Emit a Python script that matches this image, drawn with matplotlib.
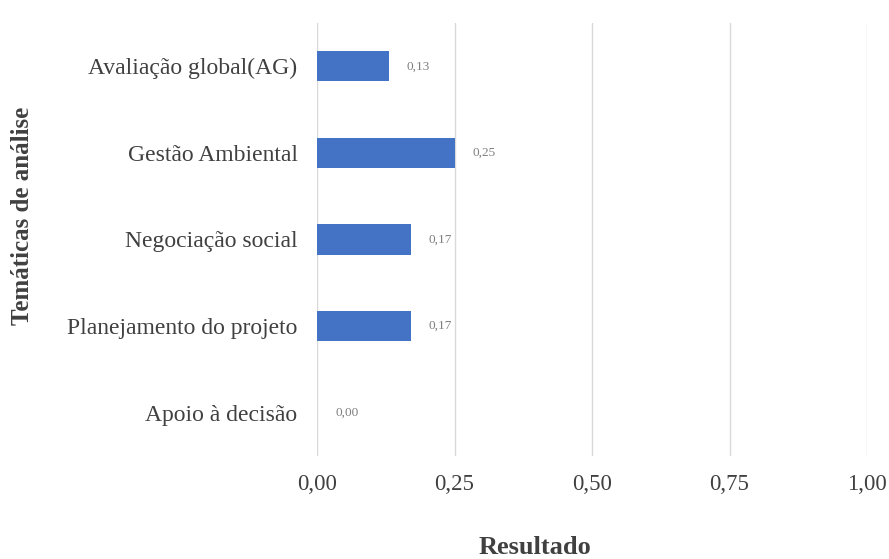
import matplotlib
matplotlib.use('Agg')
import matplotlib.pyplot as plt

categorias = ['Apoio à decisão', 'Planejamento do projeto', 'Negociação social',
              'Gestão Ambiental', 'Avaliação global(AG)']
valores = [0.00, 0.17, 0.17, 0.25, 0.13]
rotulos = ['0,00', '0,17', '0,17', '0,25', '0,13']
ticks_x = [0.0, 0.25, 0.5, 0.75, 1.0]
ticks_x_lbl = ['0,00', '0,25', '0,50', '0,75', '1,00']

plt.rcParams['font.family'] = ['Liberation Serif', 'DejaVu Serif']

fig = plt.figure(figsize=(8.89, 5.59), dpi=100)
# area do grafico em pixels: x 317-867, y 23-456
ax = fig.add_axes([317 / 889, 1 - 456 / 559, 550 / 889, 433 / 559])

y = range(len(categorias))
ax.barh(y, valores, height=0.35, color='#4472C4')
for i, (v, r) in enumerate(zip(valores, rotulos)):
    ax.text(v + 0.033, i, r, va='center', ha='left', fontsize=9.5, color='#7f7f7f')

ax.set_xlim(0, 1)
ax.set_ylim(-0.5, len(categorias) - 0.5)
ax.set_xticks(ticks_x)
ax.set_xticklabels(ticks_x_lbl)
ax.set_yticks(list(y))
ax.set_yticklabels(categorias)
ax.tick_params(axis='both', length=0, colors='#404040')
ax.tick_params(axis='y', pad=14, labelsize=17)
ax.tick_params(axis='x', pad=13, labelsize=16.5)
ax.grid(axis='x', color='#d9d9d9', linewidth=1)
ax.set_axisbelow(True)
for s in ax.spines.values():
    s.set_visible(False)

fig.text(535 / 889, 1 - 548 / 559, 'Resultado', ha='center', va='center',
         fontsize=19, fontweight='bold', color='#404040')
fig.text(23 / 889, 1 - 216 / 559, 'Temáticas de análise', ha='center', va='center',
         rotation=90, fontsize=18, fontweight='bold', color='#404040')

fig.savefig('out.png', dpi=100)
